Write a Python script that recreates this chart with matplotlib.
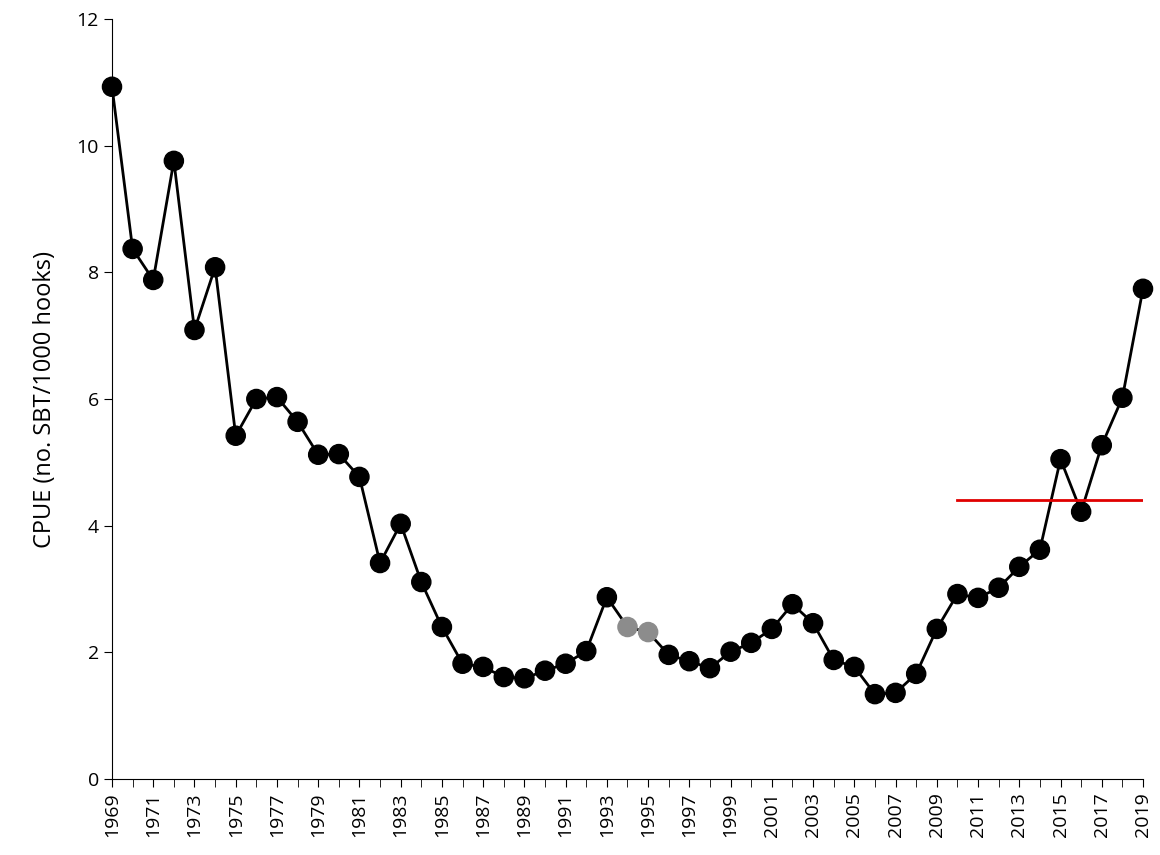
import matplotlib
matplotlib.use("Agg")
import matplotlib.pyplot as plt

plt.rcParams['font.family'] = ['Open Sans', 'DejaVu Sans']

years = list(range(1969, 2020))
cpue = [10.93, 8.37, 7.88, 9.76, 7.09, 8.08, 5.42, 6.00, 6.03, 5.64,
        5.12, 5.13, 4.77, 3.41, 4.03, 3.11, 2.40, 1.82, 1.77, 1.61,
        1.59, 1.71, 1.82, 2.02, 2.87, 2.40, 2.32, 1.96, 1.86, 1.75,
        2.01, 2.15, 2.37, 2.76, 2.46, 1.88, 1.77, 1.34, 1.36, 1.66,
        2.37, 2.92, 2.86, 3.02, 3.35, 3.62, 5.05, 4.22, 5.27, 6.02, 7.74]
gray_years = [1994, 1995]
ref_level = 4.41
ref_span = [2010, 2019]

fig = plt.figure(figsize=(11.6, 8.55), dpi=100)
ax = fig.add_axes([112/1160, 1 - 779/855, (1143-112)/1160, (779-19)/855])

ax.plot(years, cpue, color='black', lw=2, zorder=2)
colors = ['#8c8c8c' if y in gray_years else 'black' for y in years]
ax.scatter(years, cpue, s=190, c=colors, zorder=3, clip_on=False)
ax.plot(ref_span, [ref_level, ref_level], color='#e00000', lw=2, zorder=4)

ax.set_xlim(1969, 2019)
ax.set_ylim(0, 12)
ax.set_yticks(range(0, 13, 2))
ax.set_xticks(years, minor=True)
ax.set_xticks(years[::2])
ax.set_xticklabels([str(y) for y in years[::2]], rotation=90)
ax.tick_params(labelsize=14)
ax.tick_params(axis='x', which='both', length=6)
ax.tick_params(axis='y', length=6)
ax.set_ylabel('CPUE (no. SBT/1000 hooks)', fontsize=17, labelpad=14)
for s in ['top', 'right']:
    ax.spines[s].set_visible(False)

fig.savefig('out.png', dpi=100)
